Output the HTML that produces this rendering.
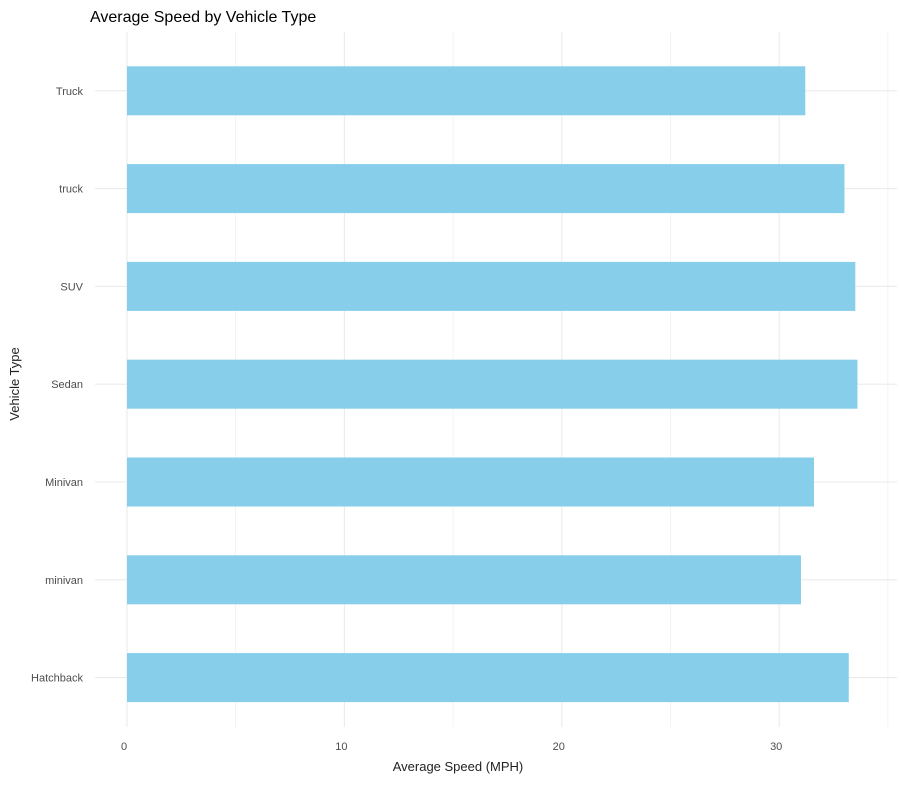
<!DOCTYPE html>
<html><head><meta charset="utf-8"><style>
body{margin:0;background:#fff;font-family:"Liberation Sans",sans-serif}
</style></head><body>
<svg width="901" height="781" id="c" xmlns="http://www.w3.org/2000/svg">
<text x="90" y="22" font-size="16" fill="#000">Average Speed by Vehicle Type</text>
<text x="458" y="771" font-size="13" fill="#222" text-anchor="middle">Average Speed (MPH)</text>
<text transform="translate(19,384) rotate(-90)" font-size="13" fill="#222" text-anchor="middle">Vehicle Type</text>
<g id="grid"></g><g id="bars"></g><g id="labels"></g>
</svg>
<script>
const categories=["Truck","truck","SUV","Sedan","Minivan","minivan","Hatchback"];
const speeds=[31.2,33.0,33.5,33.6,31.6,31.0,33.2];
const xTicks=[0,10,20,30];
const xMinor=[5,15,25,35];
const ns="http://www.w3.org/2000/svg";
const x=v=>127+v*21.74;
const y=i=>90.8+i*97.8;
function mk(t,a,p){const e=document.createElementNS(ns,t);for(const k in a)e.setAttribute(k,a[k]);p.appendChild(e);return e;}
const g=document.getElementById('grid'),b=document.getElementById('bars'),l=document.getElementById('labels');
xMinor.forEach(v=>{const e=mk('line',{x1:x(v),x2:x(v),y1:32,y2:727,stroke:'#ebebeb','stroke-width':0.6},g);

});
xTicks.forEach(v=>{const e=mk('line',{x1:x(v),x2:x(v),y1:32,y2:727,stroke:'#ebebeb','stroke-width':1.1},g);


const t=mk('text',{x:x(v)-3,y:750,'font-size':11,fill:'#4d4d4d','text-anchor':'middle'},l);t.textContent=v;

});
categories.forEach((c,i)=>{const e=mk('line',{x1:95,x2:897,y1:y(i),y2:y(i),stroke:'#ebebeb','stroke-width':1.1},g);


const r=mk('rect',{x:x(0),y:y(i)-24.5,width:x(speeds[i])-x(0),height:49,fill:'#87ceeb'},b);


const t=mk('text',{x:83,y:y(i)+4,'font-size':11,fill:'#4d4d4d','text-anchor':'end'},l);t.textContent=c;

});
</script>
</body></html>
